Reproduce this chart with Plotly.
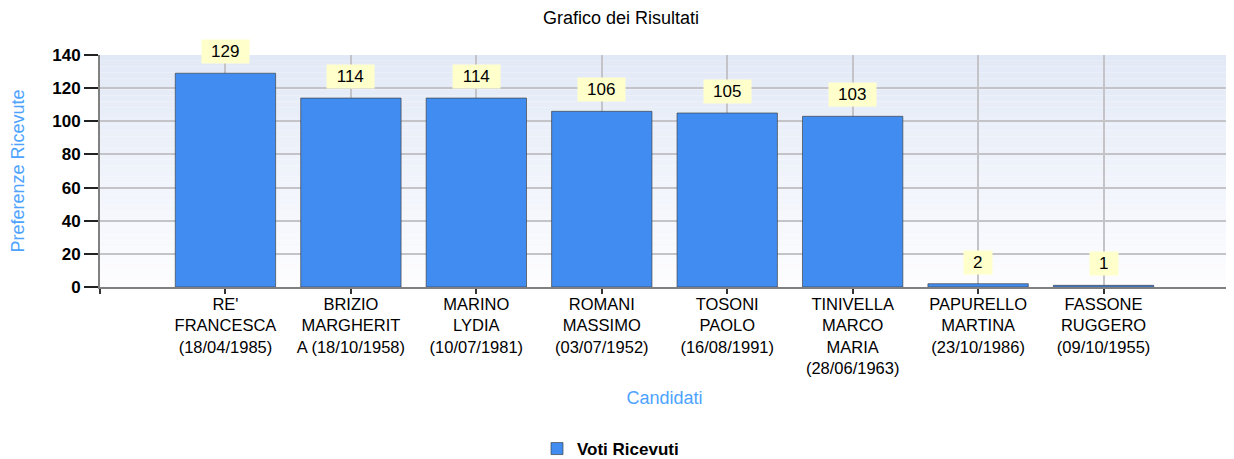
import plotly.graph_objects as go

categories = [
    "RE'<br>FRANCESCA<br>(18/04/1985)",
    "BRIZIO<br>MARGHERIT<br>A (18/10/1958)",
    "MARINO<br>LYDIA<br>(10/07/1981)",
    "ROMANI<br>MASSIMO<br>(03/07/1952)",
    "TOSONI<br>PAOLO<br>(16/08/1991)",
    "TINIVELLA<br>MARCO<br>MARIA<br>(28/06/1963)",
    "PAPURELLO<br>MARTINA<br>(23/10/1986)",
    "FASSONE<br>RUGGERO<br>(09/10/1955)",
]
votes = [129, 114, 114, 106, 105, 103, 2, 1]
y_ticks = [0, 20, 40, 60, 80, 100, 120, 140]

positions = list(range(1, len(categories) + 1))
FONT = "Liberation Sans, Arial, sans-serif"

# the page body has an 8px margin, so the figure is sized to end at the window edge
W, H = 1226, 451

fig = go.Figure()
fig.add_trace(go.Bar(
    x=positions, y=votes, name="Voti Ricevuti", width=0.8,
    marker=dict(color="#418CF0", line=dict(color="rgba(60,60,60,0.65)", width=1)),
))

# value labels
for p, v in zip(positions, votes):
    fig.add_annotation(
        x=p, y=v, text=str(v), showarrow=False, yanchor="bottom", yshift=9,
        bgcolor="#FFFFCC", borderpad=1, height=21, width=9.5 * len(str(v)) + 16,
        font=dict(family=FONT, size=17, color="black"),
    )

# vertical gradient for the plot area background
n = 40
top = (226, 233, 246)
bot = (253, 253, 255)
for i in range(n):
    t = (i + 0.5) / n
    c = tuple(round(bot[k] + (top[k] - bot[k]) * t) for k in range(3))
    fig.add_shape(type="rect", xref="x domain", yref="y domain",
                  x0=0, x1=1, y0=i / n, y1=(i + 1) / n, layer="below",
                  line=dict(width=0), fillcolor="rgb(%d,%d,%d)" % c)

fig.update_layout(
    width=W, height=H,
    margin=dict(l=92, r=5, t=47, b=172),
    paper_bgcolor="white", plot_bgcolor="white",
    font=dict(family=FONT, color="black"),
    title=dict(text="Grafico dei Risultati", x=0.5, xref="container", xanchor="center",
               y=1 - 10 / H, yref="container", yanchor="middle",
               font=dict(family=FONT, size=18, color="black")),
    showlegend=True,
    legend=dict(orientation="h", x=529 / W, xanchor="left", xref="container",
                y=1 - 441 / H, yref="container", yanchor="middle",
                font=dict(family=FONT, size=17, color="black", weight="bold")),
)
fig.update_xaxes(
    range=[0, len(categories) + 1],
    tickvals=[0] + positions + [len(categories) + 1],
    ticktext=[""] + categories + [""],
    tickangle=0,
    ticks="outside", ticklen=5, tickwidth=2, tickcolor="#333333",
    ticklabelstandoff=-4,
    tickfont=dict(family=FONT, size=16.5, color="black"),
    showgrid=True, gridcolor="#C4C4C8", gridwidth=1.5,
    showline=True, linecolor="#808080", linewidth=2,
    title=dict(text="Candidati", standoff=15,
               font=dict(family=FONT, size=18, color="#4DA3FF")),
    automargin=False, zeroline=False,
)
fig.update_yaxes(
    range=[0, 140], tickvals=y_ticks,
    ticks="outside", ticklen=14, tickwidth=2, tickcolor="#222222",
    tickfont=dict(family=FONT, size=17, color="black", weight="bold"),
    showgrid=True, gridcolor="#C4C4C8", gridwidth=1.5,
    showline=True, linecolor="#808080", linewidth=2,
    title=dict(text="Preferenze Ricevute", standoff=27,
               font=dict(family=FONT, size=18, color="#4DA3FF")),
    automargin=False, zeroline=False,
)

fig.write_html("out.html")
